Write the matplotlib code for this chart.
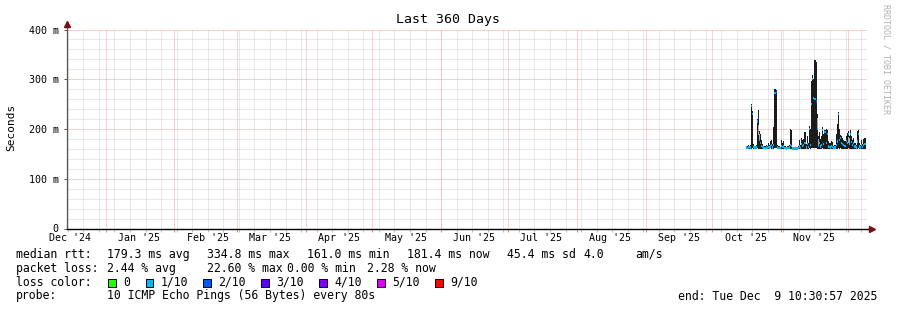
import matplotlib
matplotlib.use('Agg')
import matplotlib.pyplot as plt
import matplotlib.dates as mdates
from matplotlib.patches import Rectangle
import pandas as pd
import numpy as np
from datetime import datetime, timedelta

plt.rcParams['font.family'] = ['DejaVu Sans Mono']

# time window of the graph
t_end = datetime(2025, 12, 9, 10, 30, 57)
t_start = t_end - timedelta(days=360)

# 12h bins, data only from mid October
bin_start = '2025-10-16 06:00'

# smoke (min / max ping) and median rtt in ms
smoke_lo = [160, 160, 161, 160, 160, 160, 161, 160, 160, 160,
            161, 160, 160, 160, 160, 160, 160, 159, 160, 160,
            160, 160, 161, 160, 160, 160, 161, 161, 160, 160,
            160, 159, 160, 160, 160, 160, 159, 160, 160, 160,
            160, 160, 159, 159, 159, 159, 159, 160, 160, 159,
            160, 160, 160, 160, 159, 160, 160, 161, 160, 161,
            162, 162, 161, 162, 160, 160, 160, 160, 160, 161,
            160, 160, 160, 160, 159, 160, 159, 160, 160, 159,
            160, 160, 160, 162, 160, 161, 160, 160, 160, 160,
            160, 160, 161, 160, 160, 160, 160, 160, 160, 159,
            160, 161, 160, 160, 160, 160, 160, 160]
smoke_hi = [166, 165, 167, 166, 168, 250, 236, 170, 166, 168,
            220, 238, 196, 190, 178, 170, 166, 165, 168, 166,
            172, 168, 175, 178, 170, 205, 280, 278, 168, 165,
            166, 164, 178, 172, 176, 166, 164, 165, 166, 168,
            200, 198, 164, 163, 164, 163, 164, 165, 178, 168,
            182, 178, 180, 194, 170, 186, 172, 206, 200, 296,
            308, 300, 338, 334, 231, 186, 194, 180, 186, 204,
            190, 198, 200, 198, 176, 172, 172, 176, 174, 166,
            168, 190, 210, 235, 200, 188, 186, 182, 178, 175,
            185, 192, 195, 186, 198, 186, 178, 182, 172, 168,
            195, 198, 172, 168, 178, 170, 180, 182]
median = [163, 162, 163, 164, 163, 246, 230, 164, 163, 163,
          215, 222, 178, 172, 166, 164, 163, 162, 163, 162,
          164, 163, 165, 168, 163, 168, 272, 274, 163, 162,
          162, 162, 166, 164, 165, 162, 161, 162, 162, 163,
          168, 166, 161, 161, 161, 161, 161, 162, 165, 162,
          170, 166, 168, 172, 163, 170, 164, 200, 168, 250,
          300, 262, 260, 255, 200, 166, 172, 165, 168, 198,
          170, 194, 172, 190, 165, 164, 163, 166, 164, 162,
          163, 168, 175, 230, 178, 182, 172, 170, 168, 166,
          176, 172, 190, 170, 190, 174, 168, 172, 165, 163,
          175, 190, 165, 163, 168, 164, 168, 170]
# loss class per bin (index into loss_colors)
loss = [1] * 11 + [3] + [1] * 15 + [2] + [1] * 35 + [2] + [1] * 44

# lighter smoke parts
gray_bins = [11, 12, 64, 65, 92, 93]
gray_lo = [188, 176, 200, 168, 172, 170]
gray_hi = [208, 190, 222, 180, 184, 182]

loss_labels = ['0', '1/10', '2/10', '3/10', '4/10', '5/10', '9/10']
loss_colors = ['#26ff00', '#00b8ff', '#0059ff', '#5e00ff', '#7e00ff', '#dd00ff', '#ff0000']

month_labels = ["Dec '24", "Jan '25", "Feb '25", "Mar '25", "Apr '25", "May '25",
                "Jun '25", "Jul '25", "Aug '25", "Sep '25", "Oct '25", "Nov '25"]

W, H = 897, 310
def fx(x):
    return x / W
def fy(y):
    return 1 - y / H

fig = plt.figure(figsize=(W / 100, H / 100), dpi=100)
fig.patch.set_facecolor('white')
ax = fig.add_axes([fx(66.5), fy(228.5), 800 / W, 199 / H])
ax.set_xlim(t_start, t_end)
ax.set_ylim(0, 400)

minor_c = '#d2d2d2'
major_c = '#f2a2a2'
dot = dict(lw=0.72, ls=(0, (1, 1)))

# grid
for y in range(20, 400, 20):
    if y % 100:
        ax.axhline(y, color=minor_c, zorder=0, **dot)
for y in [100, 200, 300, 400]:
    ax.axhline(y, color=major_c, zorder=0.5, **dot)
weeks = pd.date_range(t_start, t_end, freq='W-SUN').normalize()
for d in weeks:
    ax.axvline(d, color=minor_c, zorder=0, **dot)
months = pd.date_range('2025-01-01', t_end, freq='MS')
for d in months:
    ax.axvline(d, color=major_c, zorder=0.5, **dot)

# data
dates = pd.date_range(bin_start, periods=len(smoke_hi), freq='12h')
xs = mdates.date2num(dates)
lo = np.array(smoke_lo)
hi = np.array(smoke_hi)
ax.bar(xs, hi - lo, bottom=lo, width=0.5, color='#1c1c1c', linewidth=0, zorder=2)
gx = xs[gray_bins]
ax.bar(gx, np.array(gray_hi) - np.array(gray_lo), bottom=gray_lo, width=0.5,
       color='#a8a8a8', linewidth=0, zorder=2.5)
ax.bar(xs, 5, bottom=np.array(median) - 2.5, width=0.5,
       color=[loss_colors[k] for k in loss], linewidth=0, zorder=3)

# axes
for s in ['top', 'right']:
    ax.spines[s].set_visible(False)
ax.spines['left'].set_color('#555555')
ax.spines['bottom'].set_color('#000000')
ax.spines['left'].set_linewidth(0.9)
ax.spines['bottom'].set_linewidth(1.0)
ax.plot([0, 0], [1, 1.03], transform=ax.transAxes, color='#555555', lw=0.9, clip_on=False)
ax.plot([1, 1.007], [0, 0], transform=ax.transAxes, color='#000000', lw=1.0, clip_on=False)
ax.plot([0], [1.03], marker='^', color='#7a1010', ms=4, transform=ax.transAxes, clip_on=False)
ax.plot([1.007], [0], marker='>', color='#7a1010', ms=4, transform=ax.transAxes, clip_on=False)

ax.set_yticks([0, 100, 200, 300, 400])
ax.set_yticklabels(['0', '100 m', '200 m', '300 m', '400 m'])
ax.tick_params(axis='y', length=2.5, width=0.7, color='#555555', pad=3, labelsize=7.2)
ax.set_xticks(months)
ax.set_xticklabels([])
ax.set_xticks(weeks, minor=True)
ax.tick_params(axis='x', which='major', length=2.5, width=0.7, color='#ee8080')
ax.tick_params(axis='x', which='minor', length=2, width=0.7, color='#c0c0c0')

label_dates = pd.date_range('2024-12-01', periods=len(month_labels), freq='MS') + pd.Timedelta(days=15)
for d, lab in zip(label_dates, month_labels):
    ax.text(d, -0.047, lab, transform=ax.get_xaxis_transform(), ha='center', va='center', fontsize=7.2)

# titles
fig.text(fx(448), fy(19), 'Last 360 Days', ha='center', va='center', fontsize=9.5)
fig.text(fx(11), fy(127), 'Seconds', rotation=90, ha='center', va='center', fontsize=8)
fig.text(fx(886), fy(4), 'RRDTOOL / TOBI OETIKER', rotation=270, ha='center', va='top',
         fontsize=6, color='#b0b0b0')

# legend
fs = 8.3
fig.text(fx(16), fy(254.3), 'median rtt:', va='center', fontsize=fs)
for x, s in [(107.3, '179.3 ms avg'), (207.3, '334.8 ms max'), (307.3, '161.0 ms min'),
             (406.7, '181.4 ms now'), (506.7, '45.4 ms sd'), (583.3, '4.0'), (635, 'am/s')]:
    fig.text(fx(x), fy(254.3), s, va='center', fontsize=fs)
fig.text(fx(16), fy(268.3), 'packet loss:', va='center', fontsize=fs)
for x, s in [(107.3, '2.44 % avg'), (207.3, '22.60 % max'), (286.7, '0.00 % min'), (366.7, '2.28 % now')]:
    fig.text(fx(x), fy(268.3), s, va='center', fontsize=fs)
fig.text(fx(16), fy(282.3), 'loss color:', va='center', fontsize=fs)
sq_x = [108.3, 145.7, 203.3, 261, 319.3, 377.3, 435.3]
for x, lab, c in zip(sq_x, loss_labels, loss_colors):
    fig.patches.append(Rectangle((fx(x), fy(287)), 7.5 / W, 8.5 / H, transform=fig.transFigure,
                                 facecolor=c, edgecolor='black', linewidth=0.7))
    fig.text(fx(x + 15), fy(282.3), lab, va='center', fontsize=fs)
fig.text(fx(16), fy(296), 'probe:', va='center', fontsize=fs)
fig.text(fx(107.3), fy(296), '10 ICMP Echo Pings (56 Bytes) every 80s', va='center', fontsize=fs)
fig.text(fx(678.3), fy(296), 'end: Tue Dec  9 10:30:57 2025', ha='left', va='center', fontsize=fs)

fig.savefig('out.png', dpi=100, facecolor='white')
